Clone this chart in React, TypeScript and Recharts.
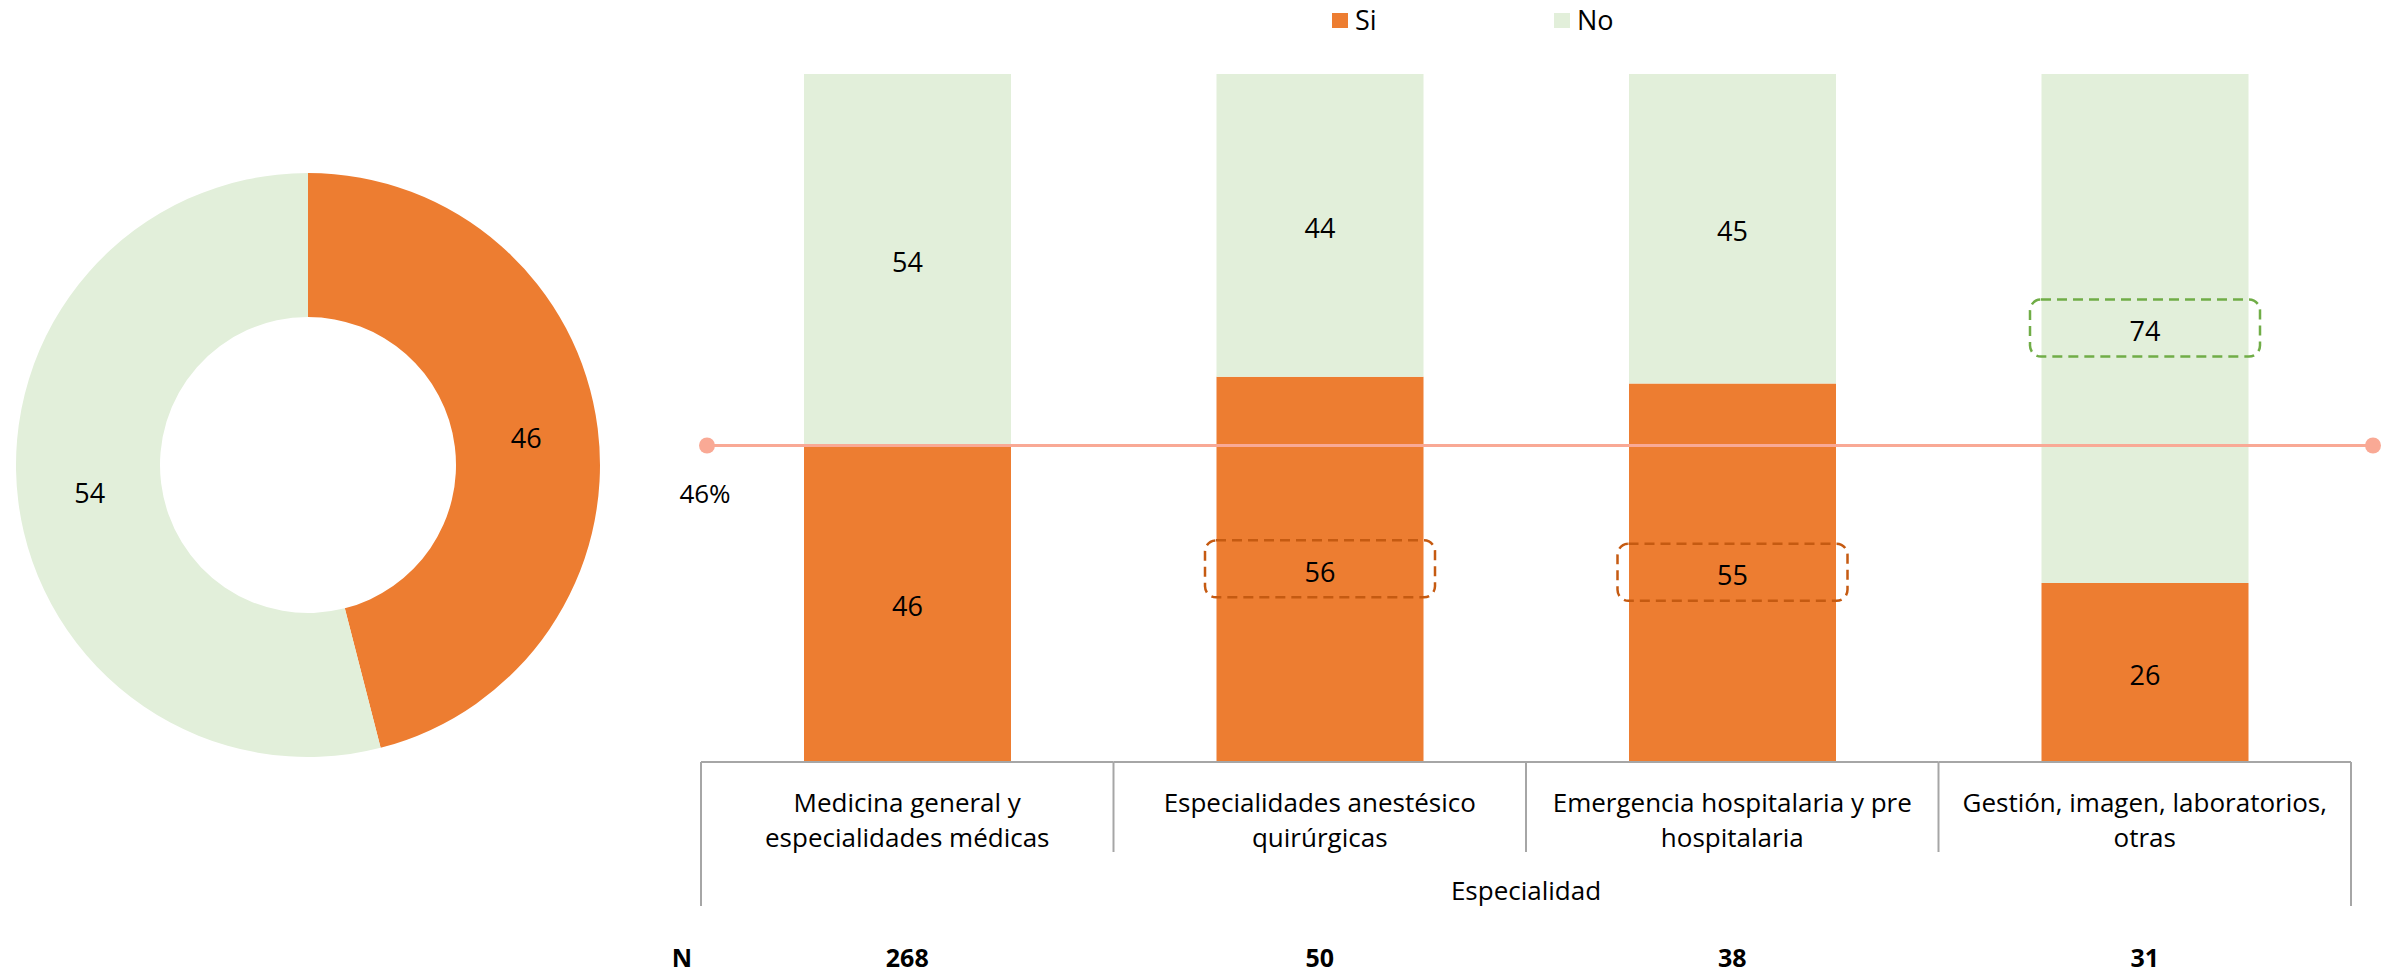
import React from 'react';
import {
  ComposedChart,
  Bar,
  XAxis,
  YAxis,
  Scatter,
  LabelList,
  Legend,
  PieChart,
  Pie,
  Cell,
} from 'recharts';

// ---------- data ----------
const categories = [
  'Medicina general y\nespecialidades médicas',
  'Especialidades anestésico\nquirúrgicas',
  'Emergencia hospitalaria y pre\nhospitalaria',
  'Gestión, imagen, laboratorios,\notras',
];
const siValues = [46, 56, 55, 26];
const noValues = [54, 44, 45, 74];
const nValues = [268, 50, 38, 31];
const siHighlight = [false, true, true, false];
const noHighlight = [false, false, false, true];

const seriesNames = ['Si', 'No'];
const donutValues = [46, 54];

const avgValue = 46;
const avgLabel = '46%';
const axisTitle = 'Especialidad';
const nTitle = 'N';

// ---------- style ----------
const FONT = '"Open Sans", Lato, sans-serif';
const ORANGE = '#ED7D31';
const GREEN = '#E2EFDA';
const AVG = '#F9A995';
const AXIS = '#A6A6A6';
const BOX_ORANGE = '#C55A11';
const BOX_GREEN = '#70AD47';

const barData = categories.map((c, i) => ({
  cat: c,
  si: siValues[i],
  no: noValues[i],
}));

const avgData = [
  { pos: 0, value: avgValue, label: avgLabel },
  { pos: 1, value: avgValue, label: '' },
];

const donutData = seriesNames.map((n, i) => ({ name: n, value: donutValues[i] }));
const donutColors = [ORANGE, GREEN];

const makeBarLabel = (hi: boolean[], boxColor: string) => (props: any) => {
  const { x, y, width, height, value, index } = props;
  const cx = Number(x) + Number(width) / 2;
  const cy = Number(y) + Number(height) / 2;
  return (
    <g>
      {hi[index] ? (
        <rect
          x={cx - 115}
          y={cy - 29}
          width={230}
          height={57}
          rx={11}
          fill="none"
          stroke={boxColor}
          strokeWidth={2.5}
          strokeDasharray="10 6"
        />
      ) : null}
      <text
        x={cx}
        y={cy + 2}
        textAnchor="middle"
        dominantBaseline="central"
        fontSize={27}
        fontFamily={FONT}
        fill="#000"
      >
        {value}
      </text>
    </g>
  );
};

const CategoryTick = (props: any) => {
  const { x, y, payload, index } = props;
  const half = payload && payload.offset > 0 ? payload.offset : 206.25;
  const last = categories.length - 1;
  const lines = String(payload.value).split('\n');
  const txt = {
    fontFamily: FONT,
    fontSize: 26,
    fill: '#000',
    textAnchor: 'middle' as const,
    dominantBaseline: 'central' as const,
  };
  return (
    <g>
      <line x1={x - half} x2={x + half} y1={y} y2={y} stroke={AXIS} strokeWidth={2} />
      <line
        x1={x - half}
        x2={x - half}
        y1={y}
        y2={y + (index === 0 ? 144 : 90)}
        stroke={AXIS}
        strokeWidth={2}
      />
      {index === last ? (
        <line x1={x + half} x2={x + half} y1={y} y2={y + 144} stroke={AXIS} strokeWidth={2} />
      ) : null}
      {lines.map((l, i) => (
        <text key={i} x={x} y={y + 40 + i * 35} {...txt}>
          {l}
        </text>
      ))}
      <text x={x} y={y + 195} {...txt} fontSize={25} fontWeight="bold">
        {nValues[index]}
      </text>
      {index === 0 ? (
        <text x={x - half - 9} y={y + 195} {...txt} fontSize={25} textAnchor="end" fontWeight="bold">
          {nTitle}
        </text>
      ) : null}
      {index === 1 ? (
        <text x={x + half} y={y + 128} {...txt}>
          {axisTitle}
        </text>
      ) : null}
    </g>
  );
};

const AvgShape = (p: any) => {
  const cx = p.cx;
  const cy = p.cy;
  const label = p.payload ? p.payload.label : p.label;
  return (
    <g>
      <circle cx={cx} cy={cy} r={8} fill={AVG} />
      {label ? (
        <text
          x={cx - 2}
          y={cy + 47}
          textAnchor="middle"
          dominantBaseline="central"
          fontSize={26}
          fontFamily={FONT}
          fill="#000"
        >
          {label}
        </text>
      ) : null}
    </g>
  );
};

const renderLegend = (props: any) => {
  const items = (props.payload || [])
    .filter((it: any) => it.type !== 'none' && seriesNames.indexOf(it.value) >= 0)
    .slice()
    .sort((a: any, b: any) => seriesNames.indexOf(a.value) - seriesNames.indexOf(b.value));
  return (
    <div style={{ position: 'relative', height: 0 }}>
      {items.map((it: any, i: number) => (
        <div
          key={i}
          style={{
            position: 'absolute',
            left: 1332 + i * 222,
            top: 5,
            display: 'flex',
            alignItems: 'center',
            whiteSpace: 'nowrap',
            height: 30,
          }}
        >
          <span
            style={{
              display: 'inline-block',
              width: 16,
              height: 15,
              background: it.color,
              marginRight: 7,
            }}
          />
          <span style={{ fontSize: 27, fontFamily: FONT, color: '#000', lineHeight: '30px' }}>
            {it.value}
          </span>
        </div>
      ))}
    </div>
  );
};

const renderPieLabel = (p: any) => {
  const RAD = Math.PI / 180;
  const r = (Number(p.innerRadius) + Number(p.outerRadius)) / 2;
  const x = p.cx + r * Math.cos(-p.midAngle * RAD);
  const y = p.cy + r * Math.sin(-p.midAngle * RAD);
  return (
    <text
      x={x}
      y={y}
      textAnchor="middle"
      dominantBaseline="central"
      fontSize={27}
      fontFamily={FONT}
      fill="#000"
    >
      {p.value}
    </text>
  );
};

export default function App() {
  return (
    <div
      style={{
        position: 'absolute',
        left: 0,
        top: 0,
        width: 2402,
        height: 976,
        background: '#fff',
        fontFamily: FONT,
      }}
    >
      <div style={{ position: 'absolute', left: 0, top: 0 }}>
        <PieChart width={620} height={976}>
          <Pie
            data={donutData}
            dataKey="value"
            nameKey="name"
            cx={303}
            cy={460}
            innerRadius={148}
            outerRadius={292}
            startAngle={90}
            endAngle={-270}
            stroke="none"
            label={renderPieLabel}
            labelLine={false}
            isAnimationActive={false}
          >
            {donutData.map((d, i) => (
              <Cell key={d.name} fill={donutColors[i]} />
            ))}
          </Pie>
        </PieChart>
      </div>
      <div style={{ position: 'absolute', left: 0, top: 0 }}>
        <ComposedChart
          width={2402}
          height={976}
          data={barData}
          margin={{ top: 74, right: 29, bottom: 34, left: 701 }}
        >
          <XAxis
            dataKey="cat"
            type="category"
            height={180}
            axisLine={false}
            tickLine={false}
            tickSize={0}
            tickMargin={0}
            interval={0}
            padding={{ left: 0, right: 22 }}
            tick={<CategoryTick />}
          />
          <XAxis
            xAxisId="avg"
            type="number"
            dataKey="pos"
            domain={[0, 1]}
            hide
            padding={{ left: 6, right: 0 }}
          />
          <YAxis type="number" domain={[0, 100]} hide />
          <Legend verticalAlign="top" content={renderLegend} wrapperStyle={{ left: 0, top: 0, width: 2402 }} />
          <Bar dataKey="si" name={seriesNames[0]} stackId="a" fill={ORANGE} barSize={207} isAnimationActive={false}>
            <LabelList dataKey="si" content={makeBarLabel(siHighlight, BOX_ORANGE)} />
          </Bar>
          <Bar dataKey="no" name={seriesNames[1]} stackId="a" fill={GREEN} barSize={207} isAnimationActive={false}>
            <LabelList dataKey="no" content={makeBarLabel(noHighlight, BOX_GREEN)} />
          </Bar>
          <Scatter
            data={avgData}
            xAxisId="avg"
            dataKey="value"
            legendType="none"
            fill={AVG}
            line={{ stroke: AVG, strokeWidth: 3 }}
            shape={<AvgShape />}
            isAnimationActive={false}
          />
        </ComposedChart>
      </div>
    </div>
  );
}
